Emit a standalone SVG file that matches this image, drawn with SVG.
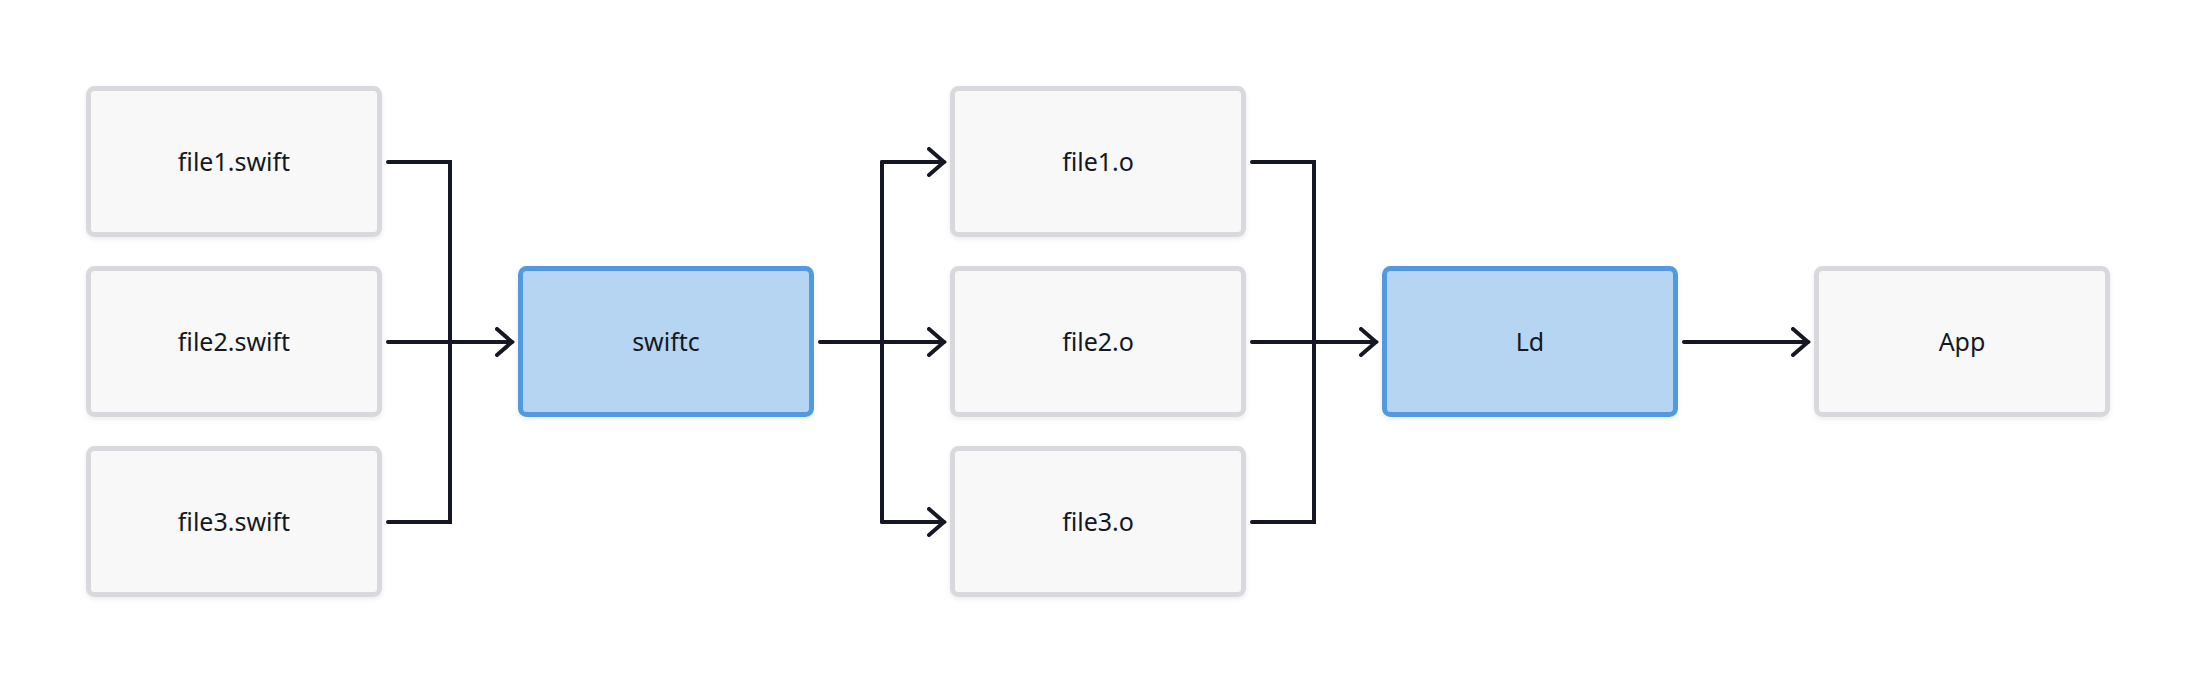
<svg xmlns="http://www.w3.org/2000/svg" width="2196" height="684" viewBox="0 0 2196 684">
  <style>
    .box { fill: #F8F8F8; stroke: #D9D9DD; stroke-width: 5; filter: url(#sh); }
    .hl { fill: #B6D5F2; stroke: #5399E0; stroke-width: 5; filter: url(#sh); }
    .lbl { font-family: "Noto Sans", "Open Sans", sans-serif; font-size: 25px; fill: #151823; text-anchor: middle; }
    .edge { fill: none; stroke: #151823; stroke-width: 4; stroke-linejoin: miter; stroke-linecap: round; }
  </style>
  <defs>
    <filter id="sh" x="-10%" y="-10%" width="120%" height="130%">
      <feDropShadow dx="0" dy="2" stdDeviation="2.5" flood-color="#000" flood-opacity="0.08"/>
    </filter>
    <marker id="arr" viewBox="0 0 20 30" refX="17" refY="15" markerWidth="20" markerHeight="30" markerUnits="userSpaceOnUse" orient="auto">
      <path d="M2,2 L17,15 L2,28" fill="none" stroke="#151823" stroke-width="4" stroke-linecap="round" stroke-linejoin="miter"/>
    </marker>
  </defs>
  <rect width="2196" height="684" fill="#FFFFFF"/>

  <g id="file1-swift"><rect class="box" x="88.5" y="88.5" width="291" height="146" rx="6"/><text class="lbl" x="234" y="171">file1.swift</text></g>
  <g id="file2-swift"><rect class="box" x="88.5" y="268.5" width="291" height="146" rx="6"/><text class="lbl" x="234" y="351">file2.swift</text></g>
  <g id="file3-swift"><rect class="box" x="88.5" y="448.5" width="291" height="146" rx="6"/><text class="lbl" x="234" y="531">file3.swift</text></g>

  <g id="swiftc"><rect class="hl" x="520.5" y="268.5" width="291" height="146" rx="6"/><text class="lbl" x="666" y="351">swiftc</text></g>

  <g id="file1-o"><rect class="box" x="952.5" y="88.5" width="291" height="146" rx="6"/><text class="lbl" x="1098" y="171">file1.o</text></g>
  <g id="file2-o"><rect class="box" x="952.5" y="268.5" width="291" height="146" rx="6"/><text class="lbl" x="1098" y="351">file2.o</text></g>
  <g id="file3-o"><rect class="box" x="952.5" y="448.5" width="291" height="146" rx="6"/><text class="lbl" x="1098" y="531">file3.o</text></g>

  <g id="ld"><rect class="hl" x="1384.5" y="268.5" width="291" height="146" rx="6"/><text class="lbl" x="1530" y="351">Ld</text></g>

  <g id="app"><rect class="box" x="1816.5" y="268.5" width="291" height="146" rx="6"/><text class="lbl" x="1962" y="351">App</text></g>

  <g id="connectors">
    <path class="edge" d="M388,162 H450 V522 H388"/>
    <path class="edge" d="M388,342 H512" marker-end="url(#arr)"/>

    <path class="edge" d="M820,342 H944" marker-end="url(#arr)"/>
    <path class="edge" d="M882,162 V522"/>
    <path class="edge" d="M882,162 H944" marker-end="url(#arr)"/>
    <path class="edge" d="M882,522 H944" marker-end="url(#arr)"/>

    <path class="edge" d="M1252,162 H1314 V522 H1252"/>
    <path class="edge" d="M1252,342 H1376" marker-end="url(#arr)"/>

    <path class="edge" d="M1684,342 H1808" marker-end="url(#arr)"/>
  </g>
</svg>
